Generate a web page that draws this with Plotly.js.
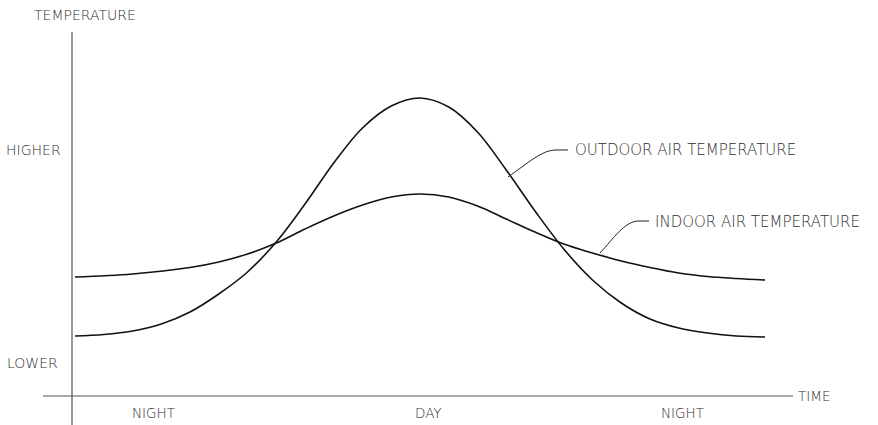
<!DOCTYPE html>
<html>
<head>
<meta charset="utf-8">
<script src="https://cdn.plot.ly/plotly-3.0.1.min.js"></script>
<style>html,body{margin:0;padding:0;background:#fff;}#chart{width:878px;height:425px;}</style>
</head>
<body>
<div id="chart"></div>
<script>
// Time of day (hours from start of night) and relative temperature (arbitrary units)
const outdoorTime = [0, 1, 2, 3, 4, 5, 6, 7, 8, 9, 10, 11, 12, 13, 14, 15, 16, 17, 18, 19, 20, 21, 22, 23, 24];
const outdoorTemp = [6.1, 6.25, 6.6, 7.3, 8.5, 10.3, 12.5, 15.5, 19.3, 23.4, 26.9, 29.1, 29.9, 29.0, 26.5, 22.7, 18.6, 14.8, 11.7, 9.4, 7.8, 6.9, 6.4, 6.1, 6.0];
const indoorTime = [0, 2, 4, 5, 6, 7, 8, 9, 10, 11, 12, 13, 14, 15, 16, 17, 18, 19, 20, 21, 22, 23, 24];
const indoorTemp = [12.0, 12.3, 12.95, 13.5, 14.3, 15.4, 16.8, 18.1, 19.2, 20.0, 20.3, 20.0, 19.1, 17.8, 16.5, 15.3, 14.4, 13.6, 12.95, 12.4, 12.05, 11.85, 11.7];
const periodLabels = ["NIGHT", "DAY", "NIGHT"];

const W = 878, H = 425;
// pixel -> paper helpers for text/decor placement
const PX = px => px / W, PY = py => 1 - py / H;
const font = {family: "DejaVu Sans", color: "#2e2e2e", weight: 300};

const traces = [
  {x: outdoorTime, y: outdoorTemp, mode: "lines", line: {color: "#111", width: 1.6, shape: "spline", smoothing: 1}, hoverinfo: "skip"},
  {x: indoorTime, y: indoorTemp, mode: "lines", line: {color: "#111", width: 1.6, shape: "spline", smoothing: 1}, hoverinfo: "skip"}
];

const ann = (text, px, py, size, anchor) => ({
  text: text, xref: "paper", yref: "paper", x: PX(px), y: PY(py),
  xanchor: anchor || "center", yanchor: "middle", showarrow: false,
  font: Object.assign({size: size}, font)
});

const annotations = [
  ann("TEMPERATURE", 32, 15, 14, "left"),
  ann("HIGHER", 4, 150, 14, "left"),
  ann("LOWER", 5, 363, 14, "left"),
  ann(periodLabels[0], 153, 413, 13.5),
  ann(periodLabels[1], 428, 413, 13.5),
  ann(periodLabels[2], 682, 413, 13.5),
  ann("TIME", 796, 396, 13.5, "left"),
  ann("OUTDOOR AIR TEMPERATURE", 573, 150, 15, "left"),
  ann("INDOOR AIR TEMPERATURE", 653, 222, 15, "left")
];

const pp = (px, py) => PX(px).toFixed(5) + "," + PY(py).toFixed(5);
const shapes = [
  {type: "line", xref: "paper", yref: "paper", x0: PX(72), x1: PX(72), y0: PY(32), y1: PY(425), line: {color: "#555", width: 1.2}},
  {type: "line", xref: "paper", yref: "paper", x0: PX(43), x1: PX(793), y0: PY(396), y1: PY(396), line: {color: "#555", width: 1.2}},
  {type: "path", xref: "paper", yref: "paper", path: "M" + pp(508, 177) + " C" + pp(528, 163) + " " + pp(542, 150) + " " + pp(556, 150) + " L" + pp(568, 150), line: {color: "#222", width: 1}},
  {type: "path", xref: "paper", yref: "paper", path: "M" + pp(600, 253) + " C" + pp(614, 238) + " " + pp(624, 222) + " " + pp(638, 221) + " L" + pp(649, 221), line: {color: "#222", width: 1}}
];

const layout = {
  width: W, height: H,
  margin: {l: 0, r: 0, t: 0, b: 0},
  paper_bgcolor: "#fff", plot_bgcolor: "#fff",
  showlegend: false,
  xaxis: {range: [-75 / 28.75, (W - 75) / 28.75], visible: false, fixedrange: true},
  yaxis: {range: [(397 - H) / 10, 397 / 10], visible: false, fixedrange: true},
  annotations: annotations,
  shapes: shapes
};

Plotly.newPlot("chart", traces, layout, {displayModeBar: false, staticPlot: true});
</script>
</body>
</html>
